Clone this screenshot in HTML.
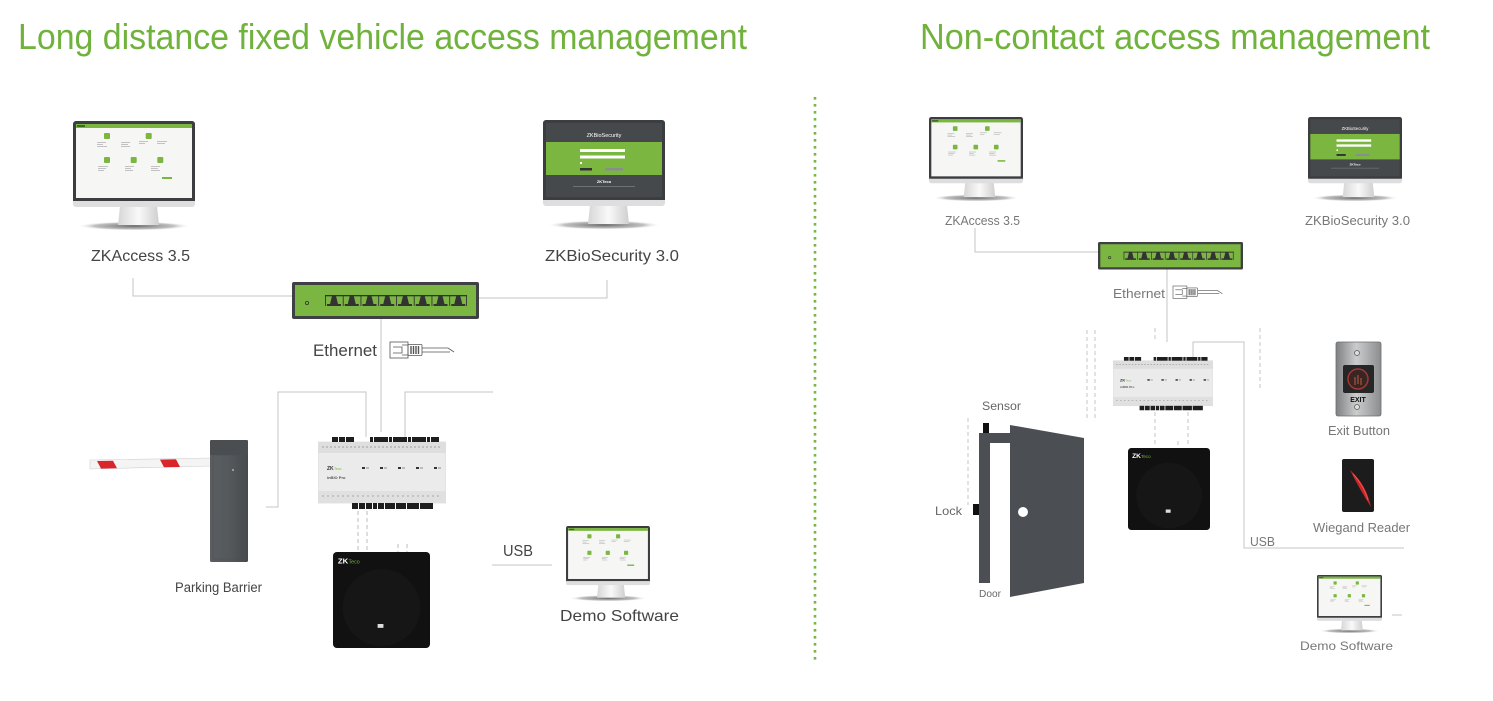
<!DOCTYPE html>
<html><head><meta charset="utf-8"><style>html,body{margin:0;padding:0;background:#fff;}svg{display:block}</style></head>
<body>
<svg width="1493" height="701" viewBox="0 0 1493 701" xmlns="http://www.w3.org/2000/svg" xmlns:xlink="http://www.w3.org/1999/xlink" font-family="'Liberation Sans', sans-serif">
<defs>
<linearGradient id="neck" x1="0" y1="0" x2="1" y2="0"><stop offset="0" stop-color="#d6d6d6"/><stop offset=".5" stop-color="#f9f9f9"/><stop offset="1" stop-color="#cfcfcf"/></linearGradient>
<radialGradient id="shadow"><stop offset="0" stop-color="#6a6a6a"/><stop offset=".7" stop-color="#a5a5a5" stop-opacity=".7"/><stop offset="1" stop-color="#fff" stop-opacity="0"/></radialGradient>
<linearGradient id="steel" x1="0" y1="0" x2="1" y2="0"><stop offset="0" stop-color="#7e8082"/><stop offset=".45" stop-color="#cbcccd"/><stop offset="1" stop-color="#8b8d8f"/></linearGradient>
<linearGradient id="barrier" x1="0" y1="0" x2="1" y2="0"><stop offset="0" stop-color="#5a5e61"/><stop offset=".5" stop-color="#55595c"/><stop offset="1" stop-color="#464a4d"/></linearGradient>

<symbol id="monA" viewBox="0 0 122 110">
 <ellipse cx="61" cy="105" rx="57" ry="4.5" fill="url(#shadow)"/>
 <polygon points="47,85 84,85 86,104 45,104" fill="url(#neck)"/>
 <rect x="0" y="0" width="122" height="86" rx="3" fill="#dedede"/>
 <rect x="0" y="0" width="122" height="80" rx="3" fill="#3b3d40"/>
 <rect x="0" y="76" width="122" height="4" fill="#3b3d40"/>
 <rect x="3" y="3" width="116" height="74" fill="#f6f6f4"/>
 <rect x="3" y="3" width="116" height="4" fill="#7ab640"/>
 <rect x="4" y="4" width="8" height="2" fill="#3d6b1f"/>
 <g fill="#7ab640">
  <rect x="31" y="12" width="6" height="6" rx="1"/>
  <rect x="72.7" y="12" width="6" height="6" rx="1"/>
  <rect x="31" y="36" width="6" height="6" rx="1"/>
  <rect x="57.7" y="36" width="6" height="6" rx="1"/>
  <rect x="84.3" y="36" width="6" height="6" rx="1"/>
  <rect x="89" y="56" width="10" height="2"/>
 </g>
 <g fill="#b5b5b5">
  <rect x="24" y="21" width="9" height=".8"/><rect x="24" y="23" width="6" height=".8"/><rect x="24" y="25" width="10" height=".8"/>
  <rect x="48" y="21" width="9" height=".8"/><rect x="48" y="23" width="7" height=".8"/><rect x="48" y="25" width="9" height=".8"/>
  <rect x="66" y="20" width="9" height=".8"/><rect x="66" y="22" width="6" height=".8"/>
  <rect x="84" y="20" width="10" height=".8"/><rect x="84" y="22" width="8" height=".8"/>
  <rect x="25" y="45" width="10" height=".8"/><rect x="25" y="47" width="8" height=".8"/><rect x="25" y="49" width="6" height=".8"/>
  <rect x="52" y="45" width="9" height=".8"/><rect x="52" y="47" width="6" height=".8"/><rect x="52" y="49" width="8" height=".8"/>
  <rect x="78" y="45" width="9" height=".8"/><rect x="78" y="47" width="7" height=".8"/><rect x="78" y="49" width="9" height=".8"/>
 </g>
</symbol>

<symbol id="monB" viewBox="0 0 122 110">
 <ellipse cx="61" cy="105" rx="57" ry="4.5" fill="url(#shadow)"/>
 <polygon points="47,85 84,85 86,104 45,104" fill="url(#neck)"/>
 <rect x="0" y="0" width="122" height="86" rx="3" fill="#dedede"/>
 <rect x="0" y="0" width="122" height="80" rx="3" fill="#3b3d40"/>
 <rect x="0" y="76" width="122" height="4" fill="#3b3d40"/>
 <rect x="3" y="3" width="116" height="74" fill="#46494c"/>
 <rect x="3" y="22" width="116" height="33" fill="#7ab640"/>
 <text x="61" y="17" font-size="5.5" fill="#fff" text-anchor="middle">ZKBioSecurity</text>
 <rect x="37" y="29" width="45" height="3" fill="#fff"/>
 <rect x="37" y="35.5" width="45" height="3" fill="#fff"/>
 <rect x="37" y="42" width="2" height="2" fill="#fff"/>
 <rect x="37" y="48" width="12" height="2.5" fill="#333"/>
 <rect x="62" y="48" width="18" height="2.5" fill="#8a8d8f"/>
 <text x="61" y="63" font-size="4" font-weight="bold" fill="#fff" text-anchor="middle">ZKTeco</text>
 <rect x="30" y="66" width="62" height=".6" fill="#8a8a8a"/>
</symbol>

<symbol id="sw" viewBox="0 0 187 37" preserveAspectRatio="none">
 <rect x="0" y="0" width="187" height="37" rx="2" fill="#3e4043"/>
 <rect x="3" y="3" width="181" height="31" fill="#7bb642"/>
 <circle cx="15" cy="21" r="1.6" fill="none" stroke="#333" stroke-width=".8"/>
 <rect x="33" y="13" width="142" height="1.3" fill="#333"/>
 <g fill="#333">
  <g id="port"><polygon points="40,14 44,14 46.5,24 37.5,24"/><rect x="35" y="22" width="3" height="2"/><rect x="46" y="22" width="3" height="2"/><rect x="33" y="13" width=".9" height="11"/></g>
  <use xlink:href="#port" x="17.75"/><use xlink:href="#port" x="35.5"/><use xlink:href="#port" x="53.25"/>
  <use xlink:href="#port" x="71"/><use xlink:href="#port" x="88.75"/><use xlink:href="#port" x="106.5"/><use xlink:href="#port" x="124.25"/>
  <rect x="174" y="13" width=".9" height="11"/>
 </g>
</symbol>

<symbol id="ctrl" viewBox="0 0 128 73" preserveAspectRatio="none">
 <rect x="0" y="5" width="128" height="61" fill="#ebebeb" stroke="#d2d2d2" stroke-width=".6"/>
 <rect x="0" y="5" width="128" height="11" fill="#dedede"/>
 <rect x="0" y="54" width="128" height="12" fill="#e0e0e0"/>
 <g fill="#1e1e1e">
  <rect x="14" y="0" width="6" height="5"/><rect x="21" y="0" width="6" height="5"/><rect x="28" y="0" width="8" height="5"/>
  <rect x="52" y="0" width="3" height="5"/><rect x="56" y="0" width="14" height="5"/><rect x="71" y="0" width="3" height="5"/>
  <rect x="75" y="0" width="14" height="5"/><rect x="90" y="0" width="3" height="5"/><rect x="94" y="0" width="14" height="5"/>
  <rect x="109" y="0" width="3" height="5"/><rect x="113" y="0" width="8" height="5"/>
  <rect x="34" y="66" width="6" height="6"/><rect x="41" y="66" width="6" height="6"/><rect x="48" y="66" width="6" height="6"/>
  <rect x="55" y="66" width="4" height="6"/><rect x="60" y="66" width="6" height="6"/><rect x="67" y="66" width="10" height="6"/>
  <rect x="78" y="66" width="10" height="6"/><rect x="89" y="66" width="12" height="6"/><rect x="102" y="66" width="13" height="6"/>
 </g>
 <line x1="4" y1="10" x2="124" y2="10" stroke="#a0a0a0" stroke-width="1" stroke-dasharray="2 2"/>
 <line x1="4" y1="59" x2="124" y2="59" stroke="#a8a8a8" stroke-width="1" stroke-dasharray="2 3"/>
 <text x="9" y="33" font-size="5" font-weight="bold" fill="#333">ZK</text>
 <text x="16" y="33" font-size="3.5" fill="#7ab640">Teco</text>
 <text x="9" y="42" font-size="4" font-weight="bold" fill="#555">inBIO Pro</text>
 <g fill="#333"><rect x="44" y="30" width="3" height="2"/><rect x="62" y="30" width="3" height="2"/><rect x="80" y="30" width="3" height="2"/><rect x="98" y="30" width="3" height="2"/><rect x="116" y="30" width="3" height="2"/></g>
 <g fill="#bbb"><rect x="48" y="30" width="3" height="2"/><rect x="66" y="30" width="3" height="2"/><rect x="84" y="30" width="3" height="2"/><rect x="102" y="30" width="3" height="2"/><rect x="120" y="30" width="3" height="2"/></g>
</symbol>

<symbol id="reader" viewBox="0 0 100 100" preserveAspectRatio="none">
 <rect x="0" y="0" width="100" height="100" rx="4" fill="#111"/>
 <circle cx="50" cy="58" r="40" fill="#161616"/>
 <text x="5" y="12" font-size="8" font-weight="bold" fill="#fff">ZK</text>
 <text x="16" y="12" font-size="5.5" fill="#7ab640">Teco</text>
 <rect x="46" y="75" width="6" height="4" fill="#ddd"/>
</symbol>

<g id="cable" fill="none" stroke="#555" stroke-width=".8">
 <rect x="0" y="0" width="18" height="16"/>
 <path d="M3,5 h9 v6 h-9 M12,3 h6 M12,13 h6"/>
 <rect x="18" y="2.5" width="14" height="11" rx="1"/>
 <path d="M21,4 v8 M23.5,4 v8 M26,4 v8 M28.5,4 v8" stroke-width="1.4"/>
 <path d="M32,6 H58 L64,10 M32,10 H60"/>
</g>
</defs>

<!-- titles -->
<text x="18" y="49" font-size="36" fill="#70b23b" textLength="729" lengthAdjust="spacingAndGlyphs">Long distance fixed vehicle access management</text>
<text x="920" y="49" font-size="36" fill="#70b23b" textLength="510" lengthAdjust="spacingAndGlyphs">Non-contact access management</text>

<!-- divider -->
<line x1="815" y1="97" x2="815" y2="660" stroke="#7ab640" stroke-width="2.6" stroke-dasharray="2.6 4.4"/>

<!-- ================= LEFT ================= -->
<g fill="none" stroke="#c6c6c6" stroke-width="1">
 <polyline points="133,278 133,296 293,296"/>
 <polyline points="607,280 607,298 479,298"/>
 <line x1="381" y1="319" x2="381" y2="432"/>
 <polyline points="366,437 366,392 278,392 278,507 266,507"/>
 <polyline points="405,437 405,392 493,392"/>
 <line x1="492" y1="565" x2="552" y2="565"/>
</g>
<g fill="none" stroke="#bdbdbd" stroke-width="1" stroke-dasharray="4 3">
 <line x1="358" y1="511" x2="358" y2="552"/>
 <line x1="367" y1="511" x2="367" y2="552"/>
 <line x1="398" y1="544" x2="398" y2="552"/>
 <line x1="407" y1="544" x2="407" y2="552"/>
</g>

<use xlink:href="#monA" x="73" y="121" width="122" height="110"/>
<use xlink:href="#monB" x="543" y="120" width="122" height="110"/>
<text x="91" y="261" font-size="16" fill="#444" textLength="99" lengthAdjust="spacingAndGlyphs">ZKAccess 3.5</text>
<text x="545" y="261" font-size="16" fill="#444" textLength="134" lengthAdjust="spacingAndGlyphs">ZKBioSecurity 3.0</text>

<use xlink:href="#sw" x="292" y="282" width="187" height="37"/>
<text x="313" y="356" font-size="17" fill="#444" textLength="64" lengthAdjust="spacingAndGlyphs">Ethernet</text>
<use xlink:href="#cable" transform="translate(390,342)"/>

<use xlink:href="#ctrl" x="318" y="437" width="128" height="73"/>

<!-- barrier -->
<polygon points="90,460 212,458 212,466 90,469" fill="#f4f4f4" stroke="#cfcfcf" stroke-width=".6"/>
<polygon points="97,461 113,460.7 117,468.3 101,468.6" fill="#d8262a"/>
<polygon points="160,459.6 176,459.3 180,467 164,467.3" fill="#d8262a"/>
<rect x="210" y="440" width="38" height="122" rx="1.5" fill="url(#barrier)"/>
<rect x="210" y="440" width="38" height="15" rx="1.5" fill="#4a4e51"/>
<rect x="213" y="455" width="32" height="104" fill="none" stroke="#4c5053" stroke-width=".6"/>
<circle cx="233" cy="470" r=".9" fill="#ccc"/>
<text x="175" y="592" font-size="13.5" fill="#444" textLength="87" lengthAdjust="spacingAndGlyphs">Parking Barrier</text>

<use xlink:href="#reader" x="333" y="552" width="97" height="96"/>

<text x="503" y="556" font-size="16" fill="#444" textLength="30" lengthAdjust="spacingAndGlyphs">USB</text>
<use xlink:href="#monA" x="566" y="526" width="84" height="75.7"/>
<text x="560" y="621" font-size="16" fill="#444" textLength="119" lengthAdjust="spacingAndGlyphs">Demo Software</text>

<!-- ================= RIGHT ================= -->
<g fill="none" stroke="#c6c6c6" stroke-width="1">
 <polyline points="975,228 975,252 1098,252"/>
 <line x1="1167" y1="269" x2="1167" y2="342"/>
 <polyline points="1193,357 1193,342 1244,342 1244,548 1404,548"/>
 <line x1="1392" y1="615" x2="1402" y2="615"/>
</g>
<g fill="none" stroke="#c4c4c4" stroke-width="1" stroke-dasharray="4 3">
 <line x1="1087" y1="330" x2="1087" y2="420"/>
 <line x1="1095" y1="330" x2="1095" y2="420"/>
 <line x1="1155" y1="328" x2="1155" y2="342"/>
 <line x1="1260" y1="328" x2="1260" y2="390"/>
 <line x1="1155" y1="412" x2="1155" y2="447"/>
 <line x1="1188" y1="412" x2="1188" y2="447"/>
 <line x1="1178" y1="441" x2="1178" y2="447"/>
 <line x1="968" y1="418" x2="968" y2="505"/>
</g>

<use xlink:href="#monA" x="929" y="117" width="94" height="84.8"/>
<use xlink:href="#monB" x="1308" y="117" width="94" height="84.8"/>
<text x="945" y="225" font-size="13" fill="#777" textLength="75" lengthAdjust="spacingAndGlyphs">ZKAccess 3.5</text>
<text x="1305" y="225" font-size="13" fill="#777" textLength="105" lengthAdjust="spacingAndGlyphs">ZKBioSecurity 3.0</text>

<use xlink:href="#sw" x="1098" y="242" width="145" height="27.5"/>
<text x="1113" y="298" font-size="13" fill="#777" textLength="52" lengthAdjust="spacingAndGlyphs">Ethernet</text>
<use xlink:href="#cable" transform="translate(1173,286) scale(0.77)"/>

<use xlink:href="#ctrl" x="1113" y="357" width="100" height="54"/>
<use xlink:href="#reader" x="1128" y="448" width="82" height="82"/>

<!-- door -->
<rect x="979" y="433" width="11" height="150" fill="#4b4e52"/>
<rect x="979" y="433" width="31" height="10" fill="#4b4e52"/>
<polygon points="1010,425 1084,438 1084,583 1010,597" fill="#4b4e52"/>
<circle cx="1023" cy="512" r="5" fill="#fff"/>
<rect x="983" y="423" width="6" height="10" fill="#111"/>
<rect x="973" y="504" width="6" height="11" fill="#111"/>
<text x="982" y="410" font-size="12" fill="#666" textLength="39" lengthAdjust="spacingAndGlyphs">Sensor</text>
<text x="935" y="515" font-size="12" fill="#666" textLength="27" lengthAdjust="spacingAndGlyphs">Lock</text>
<text x="979" y="597" font-size="10" fill="#666" textLength="22" lengthAdjust="spacingAndGlyphs">Door</text>

<!-- exit button -->
<rect x="1336" y="342" width="45" height="74" rx="2" fill="url(#steel)" stroke="#6b6d6f" stroke-width=".8"/>
<circle cx="1357" cy="353" r="2.5" fill="#ddd" stroke="#555" stroke-width=".7"/>
<circle cx="1357" cy="407" r="2.5" fill="#ddd" stroke="#555" stroke-width=".7"/>
<rect x="1343" y="365" width="31" height="28" rx="2" fill="#262626"/>
<circle cx="1358" cy="379" r="10" fill="#3a2523" stroke="#a33a36" stroke-width="1.4"/>
<path d="M1355,385 v-8 M1358,384 v-9 M1361,385 v-7" stroke="#8a4a3a" stroke-width="1.6"/>
<text x="1358" y="402" font-size="7" font-weight="bold" fill="#111" text-anchor="middle">EXIT</text>
<text x="1328" y="435" font-size="13" fill="#777" textLength="62" lengthAdjust="spacingAndGlyphs">Exit Button</text>

<!-- wiegand reader -->
<rect x="1342" y="459" width="32" height="53" rx="2" fill="#1c1c1c"/>
<path d="M1350,470 Q1366,484 1371,507 Q1360,490 1350,470 Z" fill="#c8282b"/>
<path d="M1353,474 Q1364,486 1368,500" stroke="#ff5a5a" stroke-width=".8" fill="none"/>
<text x="1313" y="532" font-size="13" fill="#777" textLength="97" lengthAdjust="spacingAndGlyphs">Wiegand Reader</text>

<text x="1250" y="546" font-size="13" fill="#777" textLength="25" lengthAdjust="spacingAndGlyphs">USB</text>

<use xlink:href="#monA" x="1317" y="575" width="65" height="58.6"/>
<text x="1300" y="650" font-size="12" fill="#777" textLength="93" lengthAdjust="spacingAndGlyphs">Demo Software</text>
</svg>
</body></html>
